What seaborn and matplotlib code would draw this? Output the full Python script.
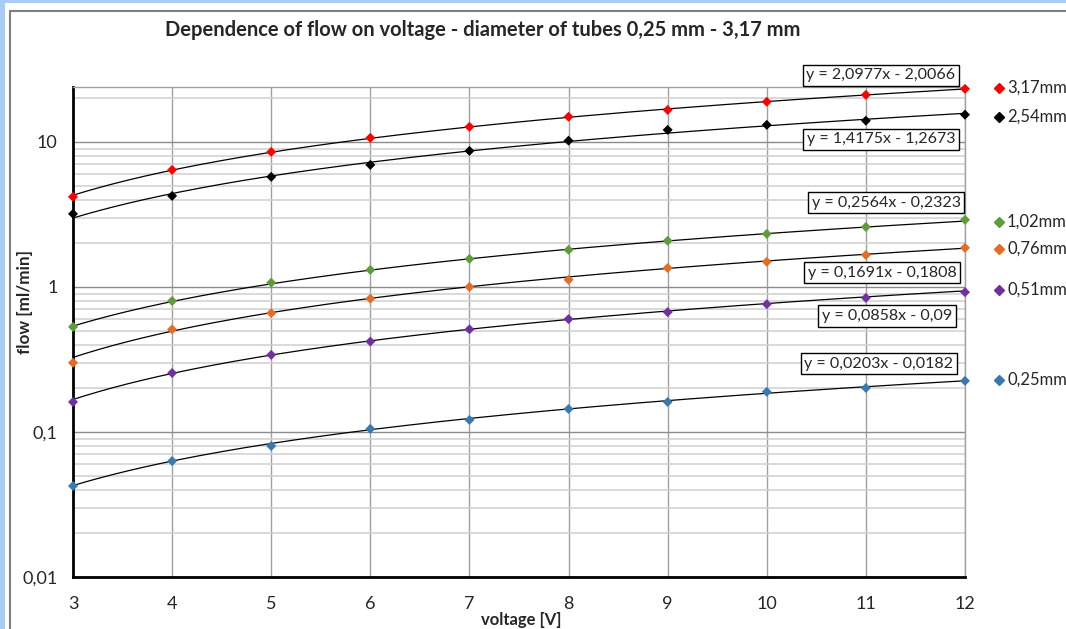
import numpy as np
import pandas as pd
import matplotlib.pyplot as plt
import seaborn as sns
from matplotlib.lines import Line2D
from matplotlib.patches import Rectangle
from matplotlib.ticker import FixedLocator, LogLocator, NullFormatter

# values
voltage = [3, 4, 5, 6, 7, 8, 9, 10, 11, 12]
tubes = ["3,17mm", "2,54mm", "1,02mm", "0,76mm", "0,51mm", "0,25mm"]
flow_317 = [4.18, 6.41, 8.53, 10.66, 12.7, 14.9, 16.6, 18.9, 21.1, 23.2]
flow_254 = [3.19, 4.24, 5.74, 6.94, 8.67, 10.2, 12.1, 13.1, 14.0, 15.4]
flow_102 = [0.53, 0.80, 1.07, 1.31, 1.56, 1.80, 2.08, 2.32, 2.59, 2.90]
flow_076 = [0.30, 0.51, 0.66, 0.83, 1.00, 1.12, 1.35, 1.49, 1.66, 1.86]
flow_051 = [0.161, 0.255, 0.34, 0.42, 0.51, 0.60, 0.67, 0.76, 0.84, 0.92]
flow_025 = [0.0424, 0.063, 0.080, 0.105, 0.121, 0.144, 0.161, 0.189, 0.201, 0.225]
flows = [flow_317, flow_254, flow_102, flow_076, flow_051, flow_025]

# trend lines printed on the chart
slopes = [2.0977, 1.4175, 0.2564, 0.1691, 0.0858, 0.0203]
intercepts = [-2.0066, -1.2673, -0.2323, -0.1808, -0.09, -0.0182]
equations = ["y = 2,0977x - 2,0066", "y = 1,4175x - 1,2673", "y = 0,2564x - 0,2323",
             "y = 0,1691x - 0,1808", "y = 0,0858x - 0,09", "y = 0,0203x - 0,0182"]

y_ticks = [0.01, 0.1, 1, 10]
y_tick_labels = ["0,01", "0,1", "1", "10"]

colors = ["#FF0000", "#000000", "#5E9C3A", "#E46C25", "#7030A0", "#3A78B0"]

# pixel positions of the labels (figure is 1066 x 629)
W, H = 1066, 629
eq_pos = [(881, 75.5), (881, 139.5), (886, 202.5), (882, 272.5), (887, 316), (879, 363.5)]
leg_y = [88, 117, 222, 249, 290, 380]

rows = []
for name, vals in zip(tubes, flows):
    for v, f in zip(voltage, vals):
        rows.append({"voltage": v, "flow": f, "tube": name})
df = pd.DataFrame(rows)

sns.set_style("white")
plt.rcParams['font.family'] = ['Lato', 'DejaVu Sans']

fig = plt.figure(figsize=(W / 100, H / 100), dpi=100)
ax = fig.add_axes([73 / W, 1 - 577 / H, 892 / W, 490 / H])

# chart frame and screen background
fig.add_artist(Rectangle((0, 1 - 3 / H), 1, 3 / H, transform=fig.transFigure,
                         facecolor="#A9CBF5", edgecolor="none"))
fig.add_artist(Rectangle((0, 0), 5 / W, 1, transform=fig.transFigure,
                         facecolor="#A9CBF5", edgecolor="none"))
fig.add_artist(Rectangle((10 / W, -0.1), 1.2, 1.1 - 11 / H, transform=fig.transFigure,
                         facecolor="none", edgecolor="#7F7F7F", lw=1.5))

xs = np.linspace(3, 12, 200)
for a, b in zip(slopes, intercepts):
    ax.plot(xs, a * xs + b, color="black", lw=0.9, zorder=3)

sns.scatterplot(data=df, x="voltage", y="flow", hue="tube", hue_order=tubes,
                palette=colors, marker="D", s=26, edgecolor="none",
                legend=False, ax=ax, zorder=4, clip_on=False)

ax.set_yscale("log")
ax.set_xlim(3, 12)
ax.set_ylim(0.01, 23.9)
ax.set_xticks(voltage)
ax.yaxis.set_major_locator(FixedLocator(y_ticks))
ax.set_yticklabels(y_tick_labels)
ax.yaxis.set_minor_locator(LogLocator(base=10, subs=np.arange(2, 10)))
ax.yaxis.set_minor_formatter(NullFormatter())
ax.tick_params(axis="both", which="major", direction="out", length=5, width=2,
               color="black", labelsize=13)
ax.tick_params(axis="x", which="major", pad=9)
ax.tick_params(axis="y", which="major", pad=6)
ax.tick_params(axis="y", which="minor", length=0)

ax.grid(which="major", axis="y", color="#8C8C8C", lw=1)
ax.grid(which="minor", axis="y", color="#CFCFCF", lw=1.1)
ax.grid(which="major", axis="x", color="#A0A0A0", lw=1)
ax.set_axisbelow(True)
for side in ["left", "bottom"]:
    ax.spines[side].set_color("black")
    ax.spines[side].set_linewidth(2)
for side in ["top", "right"]:
    ax.spines[side].set_color("#A0A0A0")
    ax.spines[side].set_linewidth(1)
ax.set_xlabel("")
ax.set_ylabel("")

fig.text(483 / W, 1 - 30 / H, "Dependence of flow on voltage - diameter of tubes 0,25 mm - 3,17 mm",
         ha="center", va="center", fontsize=14.5, fontweight="bold")
fig.text(25 / W, 1 - 302 / H, "flow [ml/min]", rotation=90, ha="center", va="center",
         fontsize=12.3, fontweight="bold")
fig.text(521 / W, 1 - 628 / H, "voltage [V]", ha="center", va="bottom",
         fontsize=12, fontweight="bold")

for (px, py), txt in zip(eq_pos, equations):
    fig.text(px / W, 1 - py / H, txt, ha="center", va="center", fontsize=11.5,
             bbox=dict(boxstyle="square,pad=0.22", facecolor="white", edgecolor="black", lw=1))

for name, col, py in zip(tubes, colors, leg_y):
    fig.add_artist(Line2D([999 / W], [1 - py / H], transform=fig.transFigure,
                          marker="D", markersize=4.8, color=col, lw=0))
    fig.text(1007 / W, 1 - py / H, name, ha="left", va="center", fontsize=12)

fig.savefig("out.png", dpi=100)
